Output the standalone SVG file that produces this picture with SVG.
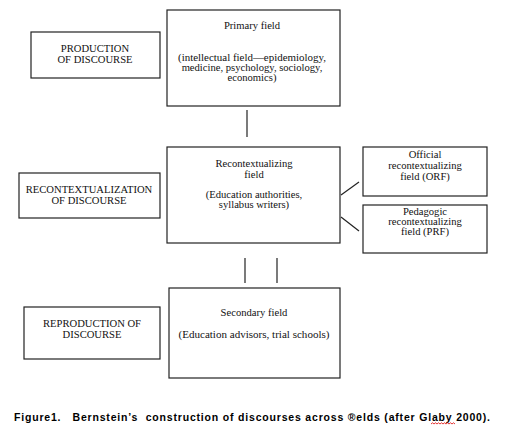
<svg xmlns="http://www.w3.org/2000/svg" width="508" height="438" viewBox="0 0 508 438">
<style>
rect{fill:#fff;stroke:#222;stroke-width:1.2}
.t{font-family:"Liberation Serif","Times New Roman",serif;font-size:10.6px;fill:#111;text-anchor:middle}
.c line{stroke:#222;stroke-width:1.2}
.cap{font-family:"Liberation Sans",Arial,sans-serif;font-size:10.5px;font-weight:bold;fill:#000;white-space:pre}
</style>
<rect x="0" y="0" width="508" height="438" style="stroke:none"/>
<g id="production">
<rect x="31" y="32" width="129" height="46"/>
<text class="t" x="95" y="52">PRODUCTION</text>
<text class="t" x="95" y="63">OF DISCOURSE</text>
</g>
<g id="primary">
<rect x="167" y="10" width="173" height="96"/>
<text class="t" x="252" y="29">Primary field</text>
<text class="t" x="252" y="61" textLength="148" lengthAdjust="spacingAndGlyphs">(intellectual field—epidemiology,</text>
<text class="t" x="252" y="71">medicine, psychology, sociology,</text>
<text class="t" x="252" y="81">economics)</text>
</g>
<g id="recontextualization">
<rect x="19" y="173" width="141" height="45"/>
<text class="t" x="89" y="193">RECONTEXTUALIZATION</text>
<text class="t" x="89" y="204">OF DISCOURSE</text>
</g>
<g id="recontextualizing">
<rect x="167" y="147" width="173" height="96"/>
<text class="t" x="254" y="167">Recontextualizing</text>
<text class="t" x="254" y="178">field</text>
<text class="t" x="254" y="198">(Education authorities,</text>
<text class="t" x="254" y="208">syllabus writers)</text>
</g>
<g id="orf">
<rect x="363" y="147" width="124" height="49"/>
<text class="t" x="425" y="158">Official</text>
<text class="t" x="425" y="169">recontextualizing</text>
<text class="t" x="425" y="180">field (ORF)</text>
</g>
<g id="prf">
<rect x="363" y="205" width="124" height="48"/>
<text class="t" x="425" y="215">Pedagogic</text>
<text class="t" x="425" y="225">recontextualizing</text>
<text class="t" x="425" y="235">field (PRF)</text>
</g>
<g id="reproduction">
<rect x="24" y="307" width="136" height="52"/>
<text class="t" x="92" y="327">REPRODUCTION OF</text>
<text class="t" x="92" y="338">DISCOURSE</text>
</g>
<g id="secondary">
<rect x="169" y="288" width="171" height="90"/>
<text class="t" x="254" y="316">Secondary field</text>
<text class="t" x="254" y="338" textLength="151" lengthAdjust="spacingAndGlyphs">(Education advisors, trial schools)</text>
</g>
<g class="c" id="connectors">
<line x1="247" y1="110" x2="247" y2="137"/>
<line x1="341" y1="195" x2="359" y2="182"/>
<line x1="341" y1="217" x2="359" y2="231"/>
<line x1="245" y1="258" x2="245" y2="283"/>
<line x1="277" y1="258" x2="277" y2="283"/>
</g>
<g id="caption">
<text class="cap" x="14" y="421" textLength="476" lengthAdjust="spacing" xml:space="preserve">Figure1.   Bernstein’s  construction of discourses across ®elds (after Glaby 2000).</text>
<path d="M431,424 l1.5,-1.2 l1.5,1.2 l1.5,-1.2 l1.5,1.2 l1.5,-1.2 l1.5,1.2 l1.5,-1.2 l1.5,1.2 l1.5,-1.2 l1.5,1.2 l1.5,-1.2 l1.5,1.2 l1.5,-1.2 l1.5,1.2 l1.5,-1.2 l1.5,1.2" fill="none" stroke="#d00" stroke-width="0.8"/>
</g>
</svg>
